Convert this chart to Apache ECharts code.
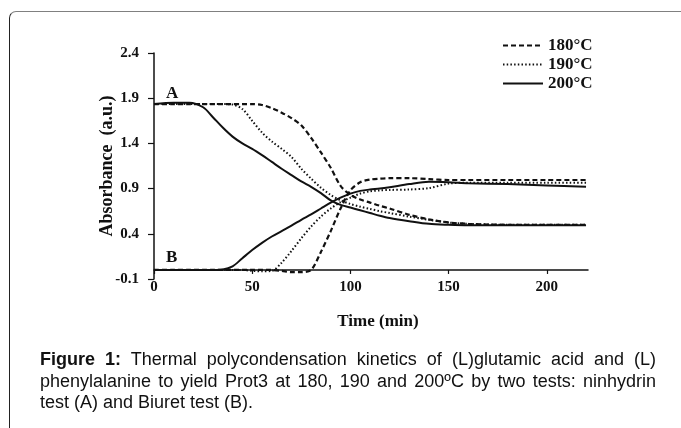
<!DOCTYPE html>
<html>
<head>
<meta charset="utf-8">
<script src="https://cdn.jsdelivr.net/npm/echarts@6/dist/echarts.min.js"></script>
<style>
	html, body {
		margin: 0;
		padding: 0;
		background: #fff;
	}
	.frame {
		position: absolute;
		left: 9px;
		top: 11px;
		width: 700px;
		height: 440px;
		border-top: 1px solid #808080;
		border-left: 1.5px solid #222;
		border-radius: 7px 0 0 0;
	}
	#chart {
		position: absolute;
		left: 0;
		top: 0;
		width: 681px;
		height: 428px;
	}
	.caption {
		position: absolute;
		left: 40px;
		top: 349px;
		width: 616px;
		font-family: 'Liberation Sans', Arial, sans-serif;
		font-size: 18px;
		line-height: 21.7px;
		color: #111;
		text-align: justify;
	}
</style>
</head>
<body>
<div class="frame"></div>
<div id="chart"></div>
<div class="caption"><b>Figure 1:</b> Thermal polycondensation kinetics of (L)glutamic acid and (L) phenylalanine to yield Prot3 at 180, 190 and 200ºC by two tests: ninhydrin test (A) and Biuret test (B).</div>
<script>
// time axis (min), shared by all curves
const times = [0, 10, 18, 25, 30, 35, 40, 45, 50, 55, 60, 65, 70, 75, 80, 85, 90, 95, 100, 105, 110, 115, 120, 130, 140, 150, 160, 180, 200, 220];

// ninhydrin test (A)
const a180 = [1.835, 1.835, 1.835, 1.835, 1.835, 1.835, 1.835, 1.835, 1.835, 1.825, 1.79, 1.74, 1.68, 1.60, 1.46, 1.30, 1.13, 0.93, 0.83, 0.78, 0.745, 0.71, 0.68, 0.61, 0.56, 0.525, 0.51, 0.50, 0.50, 0.50];
const a190 = [1.835, 1.835, 1.835, 1.835, 1.835, 1.835, 1.83, 1.78, 1.65, 1.52, 1.42, 1.34, 1.25, 1.12, 1.01, 0.91, 0.83, 0.77, 0.73, 0.70, 0.675, 0.65, 0.63, 0.59, 0.555, 0.525, 0.51, 0.50, 0.50, 0.50];
const a200 = [1.835, 1.85, 1.85, 1.80, 1.69, 1.575, 1.475, 1.40, 1.34, 1.27, 1.195, 1.12, 1.05, 0.98, 0.92, 0.85, 0.77, 0.72, 0.69, 0.66, 0.63, 0.60, 0.575, 0.54, 0.51, 0.50, 0.495, 0.495, 0.495, 0.495];

// Biuret test (B)
const b180 = [0, 0, 0, 0, 0, 0, 0, 0, 0, 0, 0, -0.01, -0.025, -0.025, 0, 0.20, 0.43, 0.68, 0.88, 0.97, 1.0, 1.01, 1.015, 1.015, 1.005, 0.995, 0.995, 0.995, 0.995, 0.995];
const b190 = [0, 0, 0, 0, 0, 0, 0, 0, -0.01, -0.015, -0.01, 0.08, 0.21, 0.35, 0.48, 0.59, 0.68, 0.75, 0.80, 0.845, 0.87, 0.88, 0.885, 0.89, 0.905, 0.955, 0.965, 0.965, 0.965, 0.965];
const b200 = [0, 0, 0, 0, 0, 0.005, 0.04, 0.13, 0.22, 0.30, 0.37, 0.43, 0.49, 0.555, 0.615, 0.68, 0.745, 0.80, 0.845, 0.875, 0.89, 0.90, 0.915, 0.95, 0.975, 0.97, 0.96, 0.95, 0.935, 0.92];

const legendNames = ['180°C', '190°C', '200°C'];
const yTicks = { min: -0.1, max: 2.4, step: 0.5 };
const xTicks = { min: 0, max: 221, step: 50 };

const serif = "'Liberation Serif', 'Times New Roman', serif";
const ink = '#111';

const styles = {
	'180°C': { type: [5, 3], width: 2.2 },
	'190°C': { type: [1.5, 2.2], width: 2 },
	'200°C': { type: 'solid', width: 2 }
};

function makeSeries(name, values) {
	return {
		name: name,
		type: 'line',
		data: times.map((t, i) => [t, values[i]]),
		showSymbol: false,
		symbol: 'none',
		smooth: 0.3,
		lineStyle: { color: ink, width: styles[name].width, type: styles[name].type },
		itemStyle: { color: ink },
		silent: true
	};
}

const chart = echarts.init(document.getElementById('chart'), null, { renderer: 'canvas' });

chart.setOption({
	animation: false,
	backgroundColor: 'transparent',
	grid: { left: 154, right: 93, top: 53, bottom: 149, containLabel: false },
	legend: {
		data: legendNames,
		orient: 'vertical',
		left: 502,
		top: 37,
		padding: 0,
		itemWidth: 40,
		itemHeight: 12,
		itemGap: 2,
		itemStyle: { opacity: 0 },
		textStyle: { fontFamily: serif, fontWeight: 'bold', fontSize: 17, color: ink },
		selectedMode: false
	},
	xAxis: {
		type: 'value',
		min: xTicks.min,
		max: xTicks.max,
		interval: xTicks.step,
		name: 'Time (min)',
		nameLocation: 'middle',
		nameGap: 34,
		nameMoveOverlap: false,
		nameTextStyle: { fontFamily: serif, fontWeight: 'bold', fontSize: 17, color: ink, padding: [0, 0, 0, 14] },
		axisLine: { onZero: true, lineStyle: { color: ink, width: 1.5 } },
		axisTick: { show: true, length: 4, lineStyle: { color: ink, width: 1.2 } },
		axisLabel: {
			margin: 1,
			fontFamily: serif,
			fontWeight: 'bold',
			fontSize: 15,
			color: ink,
			showMaxLabel: false,
			formatter: v => (v % 50 === 0 ? String(v) : '')
		},
		splitLine: { show: false }
	},
	yAxis: {
		type: 'value',
		min: yTicks.min,
		max: yTicks.max,
		interval: yTicks.step,
		name: 'Absorbance  (a.u.)',
		nameLocation: 'middle',
		nameGap: 38,
		nameMoveOverlap: false,
		nameTextStyle: { fontFamily: serif, fontWeight: 'bold', fontSize: 18, color: ink },
		axisLine: { show: true, lineStyle: { color: ink, width: 1.5 } },
		axisTick: { show: true, length: 6, lineStyle: { color: ink, width: 1.2 } },
		axisLabel: {
			margin: 15,
			fontFamily: serif,
			fontWeight: 'bold',
			fontSize: 15,
			color: ink,
			formatter: v => v.toFixed(1)
		},
		splitLine: { show: false }
	},
	graphic: [
		{ type: 'text', left: 166, top: 85, style: { text: 'A', font: 'bold 17px ' + serif, fill: ink } },
		{ type: 'text', left: 166, top: 249, style: { text: 'B', font: 'bold 17px ' + serif, fill: ink } }
	],
	series: [
		makeSeries('180°C', a180),
		makeSeries('190°C', a190),
		makeSeries('200°C', a200),
		makeSeries('180°C', b180),
		makeSeries('190°C', b190),
		makeSeries('200°C', b200)
	]
});
</script>
</body>
</html>
